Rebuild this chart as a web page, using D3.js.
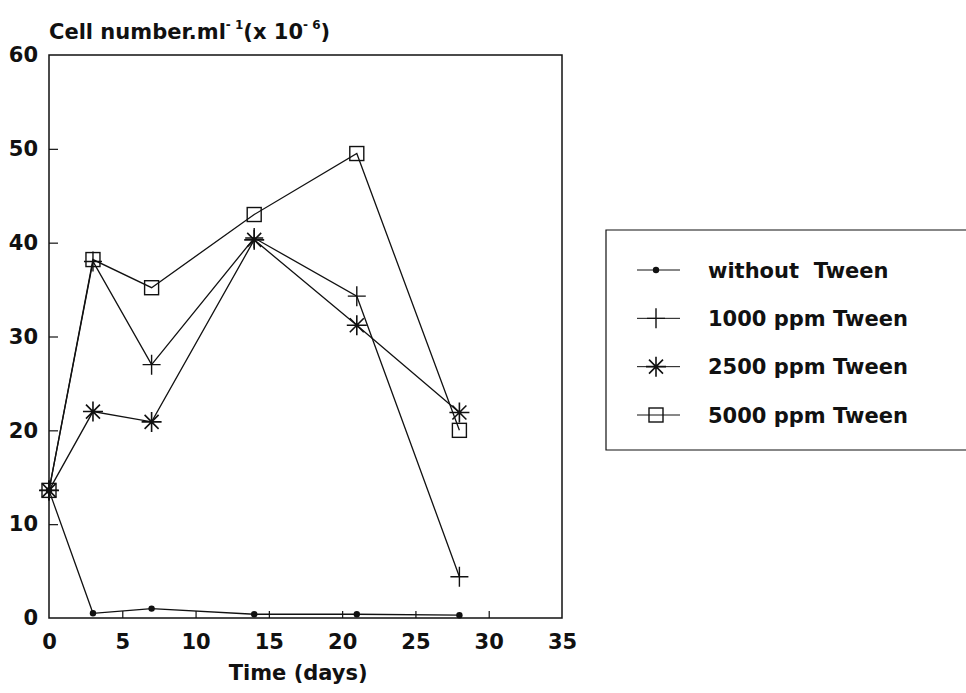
<!DOCTYPE html>
<html>
<head>
<meta charset="utf-8">
<script src="https://cdn.jsdelivr.net/npm/d3@7"></script>
<style>
  html, body { margin: 0; padding: 0; background: #fff; overflow: hidden; }
  svg { display: block; }
  svg text { font-family: "DejaVu Sans", "Liberation Sans", sans-serif; font-weight: bold; fill: #111; }
</style>
</head>
<body>
<div id="chart"></div>
<script>
// values
const days = [0, 3, 7, 14, 21, 28];
const withoutTween = [13.6, 0.5, 1.0, 0.4, 0.4, 0.3];
const tween1000 = [13.6, 38.0, 27.0, 40.5, 34.3, 4.4];
const tween2500 = [13.6, 22.0, 20.9, 40.3, 31.2, 21.9];
const tween5000 = [13.6, 38.2, 35.2, 43.0, 49.5, 20.0];
const seriesNames = ['without  Tween', '1000 ppm Tween', '2500 ppm Tween', '5000 ppm Tween'];
const markerTypes = ['dot', 'plus', 'star', 'square'];
const xTicks = [0, 5, 10, 15, 20, 25, 30, 35];
const yTicks = [0, 10, 20, 30, 40, 50, 60];

const width = 966, height = 693;
const margin = { top: 55, right: 404, bottom: 75, left: 49 };
const innerWidth = width - margin.left - margin.right;
const innerHeight = height - margin.top - margin.bottom;
const ink = '#111';
const fontSize = 21;

const svg = d3.select('#chart')
  .append('svg')
  .attr('width', width)
  .attr('height', height);

const g = svg.append('g')
  .attr('transform', `translate(${margin.left},${margin.top})`);

const x = d3.scaleLinear().domain([0, 35]).range([0, innerWidth]);
const y = d3.scaleLinear().domain([0, 60]).range([innerHeight, 0]);

// frame
g.append('rect')
  .attr('width', innerWidth)
  .attr('height', innerHeight)
  .attr('fill', 'none')
  .attr('stroke', ink)
  .attr('stroke-width', 1.5);

// axes with inward ticks
const xAxis = g.append('g')
  .attr('transform', `translate(0,${innerHeight})`)
  .call(d3.axisBottom(x).tickValues(xTicks).tickSize(-7).tickPadding(16));
const yAxis = g.append('g')
  .call(d3.axisLeft(y).tickValues(yTicks).tickSize(-9).tickPadding(11));

[xAxis, yAxis].forEach(a => {
  a.attr('font-family', null).attr('font-size', null);
  a.select('.domain').remove();
  a.selectAll('line').attr('stroke', ink).attr('stroke-width', 1.2);
  a.selectAll('text').attr('fill', ink).attr('font-size', fontSize);
});
xAxis.selectAll('.tick').filter(d => d === 0 || d === 35).select('line').remove();
yAxis.selectAll('.tick').filter(d => d === 0 || d === 60).select('line').remove();

// axis titles
svg.append('text')
  .attr('x', margin.left + x(17))
  .attr('y', 680)
  .attr('text-anchor', 'middle')
  .attr('font-size', fontSize)
  .text('Time (days)');

const title = svg.append('text')
  .attr('x', 49)
  .attr('y', 39)
  .attr('font-size', fontSize);
title.append('tspan').text('Cell number.ml');
title.append('tspan').attr('dy', -10).attr('font-size', 12).text('- 1');
title.append('tspan').attr('dy', 10).text('(x 10');
title.append('tspan').attr('dy', -10).attr('font-size', 12).text('- 6');
title.append('tspan').attr('dy', 10).text(')');

// markers
function drawMarker(sel, type) {
  if (type === 'dot') {
    sel.append('circle').attr('r', 3.2).attr('fill', ink);
  } else if (type === 'plus') {
    sel.append('path').attr('d', 'M-9,0H9M0,-10V10')
      .attr('stroke', ink).attr('stroke-width', 1.4).attr('fill', 'none');
  } else if (type === 'star') {
    sel.append('path').attr('d', 'M-10,0H10M0,-10V10M-7,-7L7,7M-7,7L7,-7')
      .attr('stroke', ink).attr('stroke-width', 1.6).attr('fill', 'none');
  } else {
    sel.append('rect').attr('x', -7).attr('y', -7).attr('width', 14).attr('height', 14)
      .attr('stroke', ink).attr('stroke-width', 1.4).attr('fill', 'none');
  }
}

const allSeries = [withoutTween, tween1000, tween2500, tween5000];
const line = d3.line().x(d => x(d[0])).y(d => y(d[1]));

allSeries.forEach((vals, i) => {
  const pts = days.map((d, k) => [d, vals[k]]);
  g.append('path')
    .datum(pts)
    .attr('d', line)
    .attr('fill', 'none')
    .attr('stroke', ink)
    .attr('stroke-width', 1.3);
  g.selectAll(null)
    .data(pts)
    .enter()
    .append('g')
    .attr('transform', d => `translate(${x(d[0])},${y(d[1])})`)
    .each(function () { drawMarker(d3.select(this), markerTypes[i]); });
});

// legend, open on the right where the page edge cuts it
const legend = svg.append('g');
legend.append('path')
  .attr('d', 'M966,230H606V450H966')
  .attr('fill', 'none')
  .attr('stroke', ink)
  .attr('stroke-width', 1.2);

const legendY = d3.scalePoint().domain(seriesNames).range([270, 415]);
seriesNames.forEach((name, i) => {
  const row = legend.append('g').attr('transform', `translate(0,${legendY(name)})`);
  row.append('line')
    .attr('x1', 637).attr('x2', 680)
    .attr('stroke', ink).attr('stroke-width', 1);
  drawMarker(row.append('g').attr('transform', 'translate(656,0)'), markerTypes[i]);
  row.append('text')
    .attr('x', 708)
    .attr('dy', '0.36em')
    .attr('font-size', fontSize)
    .style('white-space', 'pre')
    .text(name);
});
</script>
</body>
</html>
